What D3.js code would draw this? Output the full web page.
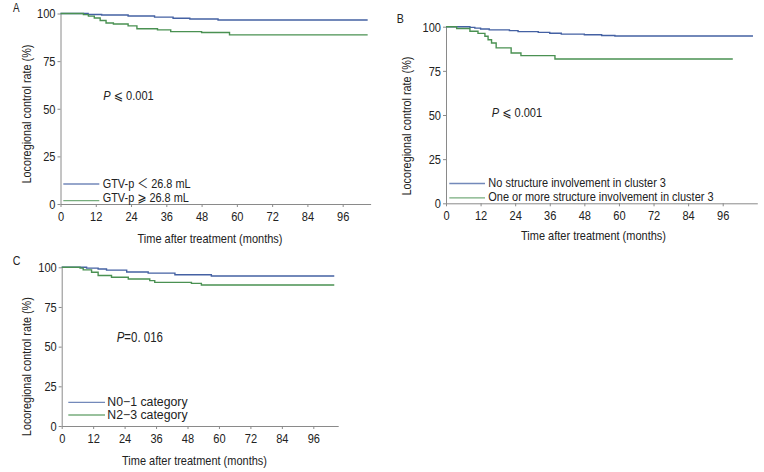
<!DOCTYPE html>
<html>
<head>
<meta charset="utf-8">
<script src="https://cdn.jsdelivr.net/npm/d3@7"></script>
<style>
  html, body { margin: 0; padding: 0; background: #fff; }
  svg { display: block; }
  text { font-family: "Liberation Sans", Arial, "DejaVu Sans", "Noto Sans CJK SC", sans-serif; fill: #222; }
</style>
</head>
<body>
<svg id="chart" width="764" height="472"></svg>
<script>
// ---------- data ----------
const xTickValues = [0, 12, 24, 36, 48, 60, 72, 84, 96];
const yTickValues = [0, 25, 50, 75, 100];
const xAxisTitle = "Time after treatment (months)";
const yAxisTitle = "Locoregional control rate (%)";

// Panel A
const aBlueTime = [0, 9.4, 14, 23, 32, 38.3, 44, 53.6, 104.5];
const aBlueRate = [100, 99.5, 99.2, 98.7, 98.1, 97.5, 97.1, 96.6, 96.6];
const aGreenTime = [0, 7.8, 9.5, 11.5, 13.5, 15.5, 18, 23, 26, 33, 37.5, 48, 57.5, 104.5];
const aGreenRate = [100, 99.4, 98.6, 97.6, 96.3, 95, 94.5, 93.5, 92, 91.4, 90.5, 90, 88.8, 88.8];
const aLegend = ["GTV-p \uFF1C 26.8 mL", "GTV-p \u2A7E 26.8 mL"];
const aPText = ["P", " \u2A7D 0.001"];

// Panel B
const bBlueTime = [0, 8.3, 10, 12, 15, 22, 25, 32, 36, 40, 48, 54, 58.6, 106.5];
const bBlueRate = [100, 99.6, 99.2, 98.7, 98.2, 97.8, 97.2, 96.8, 96.3, 95.8, 95.4, 95, 94.7, 94.7];
const bGreenTime = [0, 3.7, 8.3, 11.1, 13.5, 14.6, 15.8, 17.4, 22.6, 26, 37.8, 99.5];
const bGreenRate = [100, 99, 97.4, 96.2, 94.6, 92.6, 90.8, 88, 85.1, 83.6, 81.7, 81.7];
const bLegend = ["No structure involvement in cluster 3", "One or more structure involvement in cluster 3"];
const bPText = ["P", " \u2A7D 0.001"];

// Panel C
const cBlueTime = [0, 9.5, 13.9, 17.1, 24.8, 33, 43.2, 57.1, 104];
const cBlueRate = [100, 99.5, 98.9, 98.2, 97, 96.3, 95.3, 94.5, 94.5];
const cGreenTime = [0, 7, 8.2, 11.4, 13.9, 19, 25.4, 33.6, 35.5, 49.5, 53.3, 104];
const cGreenRate = [100, 99.5, 98.4, 96.9, 94.8, 93.7, 92.6, 91.6, 90.5, 89.9, 88.8, 88.8];
const cLegend = ["N0\u22121 category", "N2\u22123 category"];
const cPText = ["P", "=0. 016"];

const blue = "#4461a3";
const green = "#4a9152";
const axisColor = "#8a8a8a";
const NARROW = 0.82; // horizontal condensing to mimic a narrow sans

// ---------- layout (positions only) ----------
const panels = [
  { label: "A", labelPos: [13, 11.5], labelSize: 12,
    x0: 60.5, x1: 370.6, y0: 204, y100: 13.5, xMax: 105.5,
    blue: [aBlueTime, aBlueRate], green: [aGreenTime, aGreenRate],
    legend: aLegend, legendLine: [63.3, 99.3], legendY: [184, 200.7], legendTextX: 102.7, legendTextY: [187.5, 201.8], legendSize: 13.3, legendNarrow: true,
    p: aPText, pPos: [103.3, 100], pSize: 13.5,
    xTitlePos: [210, 243], yTitlePos: [31, 114] },
  { label: "B", labelPos: [396.7, 23], labelSize: 13,
    x0: 446, x1: 757.3, y0: 203.3, y100: 26.7, xMax: 108,
    blue: [bBlueTime, bBlueRate], green: [bGreenTime, bGreenRate],
    legend: bLegend, legendLine: [449.3, 485], legendY: [183.5, 197.8], legendTextX: 488.3, legendTextY: [187.3, 201.3], legendSize: 13.4, legendNarrow: true,
    p: bPText, pPos: [491.7, 117], pSize: 13.5,
    xTitlePos: [593.5, 240], yTitlePos: [411, 126] },
  { label: "C", labelPos: [12.7, 265], labelSize: 13,
    x0: 61.7, x1: 338.2, y0: 426, y100: 267.3, xMax: 105.5,
    blue: [cBlueTime, cBlueRate], green: [cGreenTime, cGreenRate],
    legend: cLegend, legendLine: [68.3, 105], legendY: [402.3, 415], legendTextX: 107.3, legendTextY: [406.3, 419], legendSize: 12.3, legendNarrow: false,
    p: cPText, pPos: [116.7, 341.7], pSize: 14,
    xTitlePos: [194.5, 465], yTitlePos: [31, 366.7] }
];

const svg = d3.select("#chart");

// place a text at (x,y) with horizontal condensing
function placeNarrow(sel, x, y, extra) {
  sel.attr("x", 0).attr("y", 0)
     .attr("transform", `translate(${x},${y})${extra || ""} scale(${NARROW},1)`);
  return sel;
}

panels.forEach(p => {
  const g = svg.append("g");
  const x = d3.scaleLinear().domain([0, p.xMax]).range([p.x0, p.x1]);
  const y = d3.scaleLinear().domain([0, 100]).range([p.y0, p.y100]);

  // axes
  const xAxis = d3.axisBottom(x).tickValues(xTickValues).tickSize(3).tickPadding(4).tickSizeOuter(0);
  const yAxis = d3.axisLeft(y).tickValues(yTickValues).tickSize(3).tickPadding(2).tickSizeOuter(0);

  const gx = g.append("g").attr("transform", `translate(0,${p.y0})`).call(xAxis);
  const gy = g.append("g").attr("transform", `translate(${p.x0},0)`).call(yAxis);
  [gx, gy].forEach(a => {
    a.attr("font-family", null).attr("font-size", null);
    a.select(".domain").attr("stroke", axisColor).attr("stroke-width", 1);
    a.selectAll(".tick line").attr("stroke", axisColor);
    a.selectAll(".tick text").attr("font-size", 13.5).attr("fill", "#222")
      .each(function () {
        const t = d3.select(this);
        const tx = +t.attr("x") || 0, ty = +t.attr("y") || 0;
        placeNarrow(t, tx, ty);
      });
  });

  // curves
  const line = d3.line().x(d => x(d[0])).y(d => y(d[1])).curve(d3.curveStepAfter);
  const mk = (t, r) => t.map((v, i) => [v, r[i]]);
  g.append("path").datum(mk(p.blue[0], p.blue[1]))
    .attr("fill", "none").attr("stroke", blue).attr("stroke-width", 1.4).attr("d", line);
  g.append("path").datum(mk(p.green[0], p.green[1]))
    .attr("fill", "none").attr("stroke", green).attr("stroke-width", 1.4).attr("d", line);

  // legend
  [blue, green].forEach((c, i) => {
    g.append("line")
      .attr("x1", p.legendLine[0]).attr("x2", p.legendLine[1])
      .attr("y1", p.legendY[i]).attr("y2", p.legendY[i])
      .attr("stroke", c).attr("stroke-opacity", 0.75).attr("stroke-width", 1.3);
    const t = g.append("text").attr("font-size", p.legendSize).text(p.legend[i]);
    if (p.legendNarrow) placeNarrow(t, p.legendTextX, p.legendTextY[i]);
    else t.attr("x", p.legendTextX).attr("y", p.legendTextY[i]);
  });

  // P value
  const pt = g.append("text").attr("font-size", p.pSize);
  placeNarrow(pt, p.pPos[0], p.pPos[1]);
  pt.append("tspan").attr("font-style", "italic").text(p.p[0]);
  pt.append("tspan").text(p.p[1]);

  // titles
  placeNarrow(g.append("text").attr("text-anchor", "middle").attr("font-size", 13.4).text(xAxisTitle),
    p.xTitlePos[0], p.xTitlePos[1]);
  placeNarrow(g.append("text").attr("text-anchor", "middle").attr("font-size", 13.2).text(yAxisTitle),
    p.yTitlePos[0], p.yTitlePos[1], " rotate(-90)");

  // panel letter
  placeNarrow(g.append("text").attr("font-size", p.labelSize).text(p.label), p.labelPos[0], p.labelPos[1]);
});
</script>
</body>
</html>
